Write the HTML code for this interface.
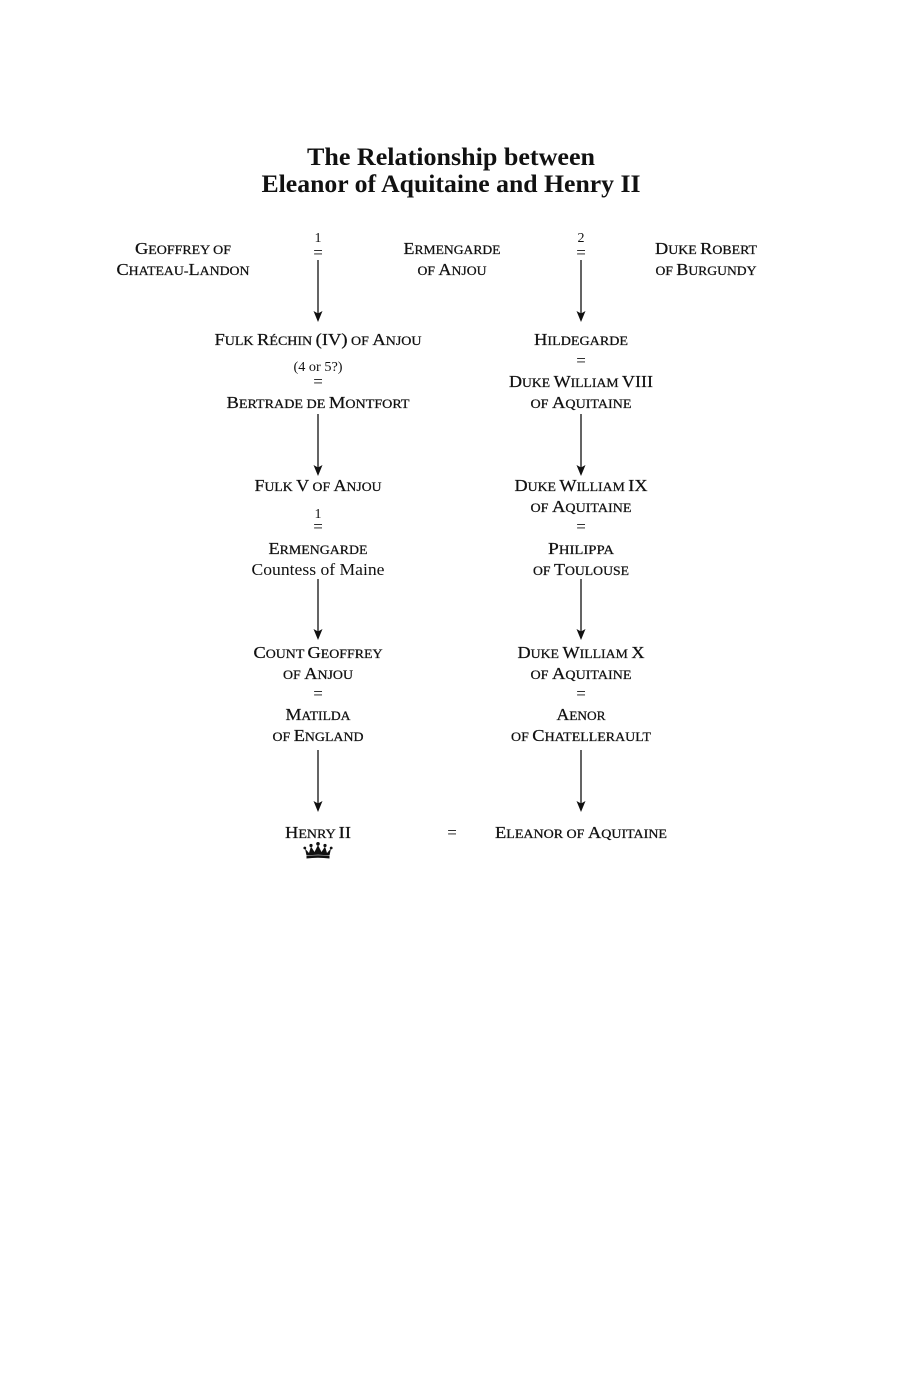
<!DOCTYPE html>
<html>
<head>
<meta charset="utf-8">
<style>
html,body{margin:0;padding:0;background:#fff;}
svg{display:block;}
text{font-family:"Liberation Serif",serif;fill:#111;}
.c{font-size:16.5px;stroke:#111;stroke-width:0.25px;}
.s{font-size:12.5px;}
.t{font-size:25px;font-weight:bold;}
.n{font-size:14px;}
.e{font-size:17px;}
</style>
</head>
<body>
<svg width="904" height="1382" viewBox="0 0 904 1382" xmlns="http://www.w3.org/2000/svg">
<rect width="904" height="1382" fill="#fff"/>

<!-- Title -->
<text class="t" x="451" y="165" text-anchor="middle" textLength="288" lengthAdjust="spacingAndGlyphs">The Relationship between</text>
<text class="t" x="451" y="192" text-anchor="middle" textLength="379" lengthAdjust="spacingAndGlyphs">Eleanor of Aquitaine and Henry II</text>

<g text-anchor="middle">
<!-- Row 1 -->
<text class="c" x="183" y="254" textLength="96" lengthAdjust="spacingAndGlyphs">G<tspan class="s">EOFFREY OF</tspan></text>
<text class="c" x="183" y="275" textLength="133" lengthAdjust="spacingAndGlyphs">C<tspan class="s">HATEAU-</tspan>L<tspan class="s">ANDON</tspan></text>
<text class="n" x="318" y="242">1</text>
<text class="e" x="318" y="258">=</text>
<text class="c" x="452" y="254" textLength="97" lengthAdjust="spacingAndGlyphs">E<tspan class="s">RMENGARDE</tspan></text>
<text class="c" x="452" y="275" textLength="69" lengthAdjust="spacingAndGlyphs"><tspan class="s">OF </tspan>A<tspan class="s">NJOU</tspan></text>
<text class="n" x="581" y="242">2</text>
<text class="e" x="581" y="258">=</text>
<text class="c" x="706" y="254" textLength="102" lengthAdjust="spacingAndGlyphs">D<tspan class="s">UKE </tspan>R<tspan class="s">OBERT</tspan></text>
<text class="c" x="706" y="275" textLength="101" lengthAdjust="spacingAndGlyphs"><tspan class="s">OF </tspan>B<tspan class="s">URGUNDY</tspan></text>

<!-- Row 2 -->
<text class="c" x="318" y="345" textLength="207" lengthAdjust="spacingAndGlyphs">F<tspan class="s">ULK </tspan>R<tspan class="s">ÉCHIN </tspan>(IV)<tspan class="s"> OF </tspan>A<tspan class="s">NJOU</tspan></text>
<text class="n" x="318" y="371" style="font-size:13.5px" textLength="49" lengthAdjust="spacingAndGlyphs">(4 or 5?)</text>
<text class="e" x="318" y="387">=</text>
<text class="c" x="318" y="408" textLength="183" lengthAdjust="spacingAndGlyphs">B<tspan class="s">ERTRADE DE </tspan>M<tspan class="s">ONTFORT</tspan></text>
<text class="c" x="581" y="345" textLength="94" lengthAdjust="spacingAndGlyphs">H<tspan class="s">ILDEGARDE</tspan></text>
<text class="e" x="581" y="366">=</text>
<text class="c" x="581" y="387" textLength="144" lengthAdjust="spacingAndGlyphs">D<tspan class="s">UKE </tspan>W<tspan class="s">ILLIAM </tspan>VIII</text>
<text class="c" x="581" y="408" textLength="101" lengthAdjust="spacingAndGlyphs"><tspan class="s">OF </tspan>A<tspan class="s">QUITAINE</tspan></text>

<!-- Row 3 -->
<text class="c" x="318" y="491" textLength="127" lengthAdjust="spacingAndGlyphs">F<tspan class="s">ULK </tspan>V<tspan class="s"> OF </tspan>A<tspan class="s">NJOU</tspan></text>
<text class="n" x="318" y="518">1</text>
<text class="e" x="318" y="532">=</text>
<text class="c" x="318" y="554" textLength="99" lengthAdjust="spacingAndGlyphs">E<tspan class="s">RMENGARDE</tspan></text>
<text class="e" x="318" y="575" textLength="133" lengthAdjust="spacingAndGlyphs">Countess of Maine</text>
<text class="c" x="581" y="491" textLength="133" lengthAdjust="spacingAndGlyphs">D<tspan class="s">UKE </tspan>W<tspan class="s">ILLIAM </tspan>IX</text>
<text class="c" x="581" y="512" textLength="101" lengthAdjust="spacingAndGlyphs"><tspan class="s">OF </tspan>A<tspan class="s">QUITAINE</tspan></text>
<text class="e" x="581" y="532">=</text>
<text class="c" x="581" y="554" textLength="66" lengthAdjust="spacingAndGlyphs">P<tspan class="s">HILIPPA</tspan></text>
<text class="c" x="581" y="575" textLength="96" lengthAdjust="spacingAndGlyphs"><tspan class="s">OF </tspan>T<tspan class="s">OULOUSE</tspan></text>

<!-- Row 4 -->
<text class="c" x="318" y="658" textLength="129" lengthAdjust="spacingAndGlyphs">C<tspan class="s">OUNT </tspan>G<tspan class="s">EOFFREY</tspan></text>
<text class="c" x="318" y="679" textLength="70" lengthAdjust="spacingAndGlyphs"><tspan class="s">OF </tspan>A<tspan class="s">NJOU</tspan></text>
<text class="e" x="318" y="699">=</text>
<text class="c" x="318" y="720" textLength="65" lengthAdjust="spacingAndGlyphs">M<tspan class="s">ATILDA</tspan></text>
<text class="c" x="318" y="741" textLength="91" lengthAdjust="spacingAndGlyphs"><tspan class="s">OF </tspan>E<tspan class="s">NGLAND</tspan></text>
<text class="c" x="581" y="658" textLength="127" lengthAdjust="spacingAndGlyphs">D<tspan class="s">UKE </tspan>W<tspan class="s">ILLIAM </tspan>X</text>
<text class="c" x="581" y="679" textLength="101" lengthAdjust="spacingAndGlyphs"><tspan class="s">OF </tspan>A<tspan class="s">QUITAINE</tspan></text>
<text class="e" x="581" y="699">=</text>
<text class="c" x="581" y="720" textLength="49" lengthAdjust="spacingAndGlyphs">A<tspan class="s">ENOR</tspan></text>
<text class="c" x="581" y="741" textLength="140" lengthAdjust="spacingAndGlyphs"><tspan class="s">OF </tspan>C<tspan class="s">HATELLERAULT</tspan></text>

<!-- Row 5 -->
<text class="c" x="318" y="838" textLength="66" lengthAdjust="spacingAndGlyphs">H<tspan class="s">ENRY </tspan>II</text>
<text class="e" x="452" y="838">=</text>
<text class="c" x="581" y="838" textLength="172" lengthAdjust="spacingAndGlyphs">E<tspan class="s">LEANOR OF </tspan>A<tspan class="s">QUITAINE</tspan></text>
</g>

<!-- Arrows -->
<g stroke="#111" stroke-width="1.3" fill="none">
<line x1="318" y1="260" x2="318" y2="314"/>
<line x1="581" y1="260" x2="581" y2="314"/>
<line x1="318" y1="414" x2="318" y2="468"/>
<line x1="581" y1="414" x2="581" y2="468"/>
<line x1="318" y1="579" x2="318" y2="632"/>
<line x1="581" y1="579" x2="581" y2="632"/>
<line x1="318" y1="750" x2="318" y2="804"/>
<line x1="581" y1="750" x2="581" y2="804"/>
</g>
<g fill="#111">
<polygon points="318,322 313.5,311 318,313.5 322.5,311"/>
<polygon points="581,322 576.5,311 581,313.5 585.5,311"/>
<polygon points="318,476 313.5,465 318,467.5 322.5,465"/>
<polygon points="581,476 576.5,465 581,467.5 585.5,465"/>
<polygon points="318,640 313.5,629 318,631.5 322.5,629"/>
<polygon points="581,640 576.5,629 581,631.5 585.5,629"/>
<polygon points="318,812 313.5,801 318,803.5 322.5,801"/>
<polygon points="581,812 576.5,801 581,803.5 585.5,801"/>
</g>

<!-- Crown -->
<g fill="#111">
<path d="M305,848.5 L309,853 L311,846.5 L314.5,852 L318,845 L321.5,852 L325,846.5 L327,853 L331,848.5 L329.5,855.5 Q318,854 306.5,855.5 Z"/>
<path d="M306.5,856 Q318,854.6 329.5,856 L329.5,858.5 Q318,857 306.5,858.5 Z"/>
<circle cx="304.8" cy="848" r="1.4"/>
<circle cx="311" cy="845.5" r="1.6"/>
<circle cx="318" cy="843.8" r="1.8"/>
<circle cx="325" cy="845.5" r="1.6"/>
<circle cx="331.2" cy="848" r="1.4"/>
</g>
</svg>
</body>
</html>
